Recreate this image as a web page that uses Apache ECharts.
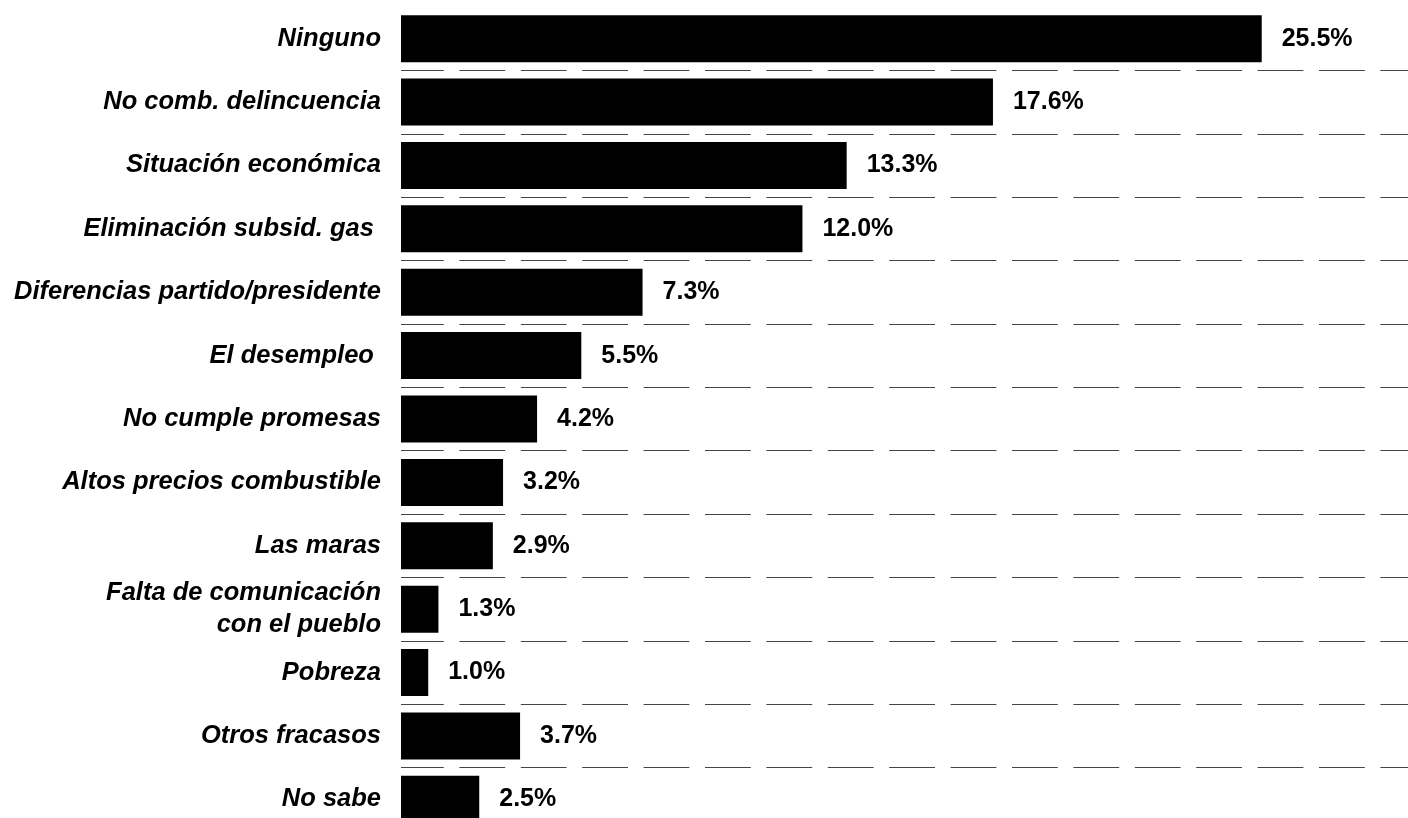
<!DOCTYPE html>
<html>
<head>
<meta charset="utf-8">
<script src="https://cdn.jsdelivr.net/npm/echarts@6/dist/echarts.min.js"></script>
<style>
html,body{margin:0;padding:0;background:#fff;}
#chart{width:1408px;height:818px;}
</style>
</head>
<body>
<div id="chart"></div>
<script>
const categories = [
  'Ninguno',
  'No comb. delincuencia',
  'Situación económica',
  'Eliminación subsid. gas ',
  'Diferencias partido/presidente',
  'El desempleo ',
  'No cumple promesas',
  'Altos precios combustible',
  'Las maras',
  'Falta de comunicación\ncon el pueblo',
  'Pobreza',
  'Otros fracasos',
  'No sabe'
];
const values = [25.5, 17.6, 13.3, 12.0, 7.3, 5.5, 4.2, 3.2, 2.9, 1.3, 1.0, 3.7, 2.5];

const chart = echarts.init(document.getElementById('chart'));
const font = '"Liberation Sans", Arial, Helvetica, sans-serif';
chart.setOption({
  animation: false,
  grid: {left: 401, right: 0, top: 7, height: 824, containLabel: false, outerBoundsMode: 'none'},
  xAxis: {
    type: 'value', min: 0.2, max: 29.8, show: false,
    splitLine: {show: false}
  },
  yAxis: {
    type: 'category', inverse: true, data: categories,
    axisLine: {show: false}, axisTick: {show: false},
    axisLabel: {
      interval: 0, margin: 20, color: '#000', fontSize: 25.5, fontStyle: 'italic',
      fontWeight: 'bold', fontFamily: font, lineHeight: 32, align: 'right'
    },
    splitLine: {
      show: true, interval: 0, showMinLine: false, showMaxLine: false,
      lineStyle: {color: '#444', width: 1, type: [45.8, 15.6], dashOffset: 3}
    }
  },
  series: [{
    type: 'bar', data: values, barWidth: 47, clip: true,
    itemStyle: {color: '#000'},
    label: {
      show: true, position: 'right', distance: 20, color: '#000',
      fontSize: 25, fontWeight: 'bold', fontFamily: font,
      formatter: p => p.value.toFixed(1) + '%'
    }
  }]
});
</script>
</body>
</html>
